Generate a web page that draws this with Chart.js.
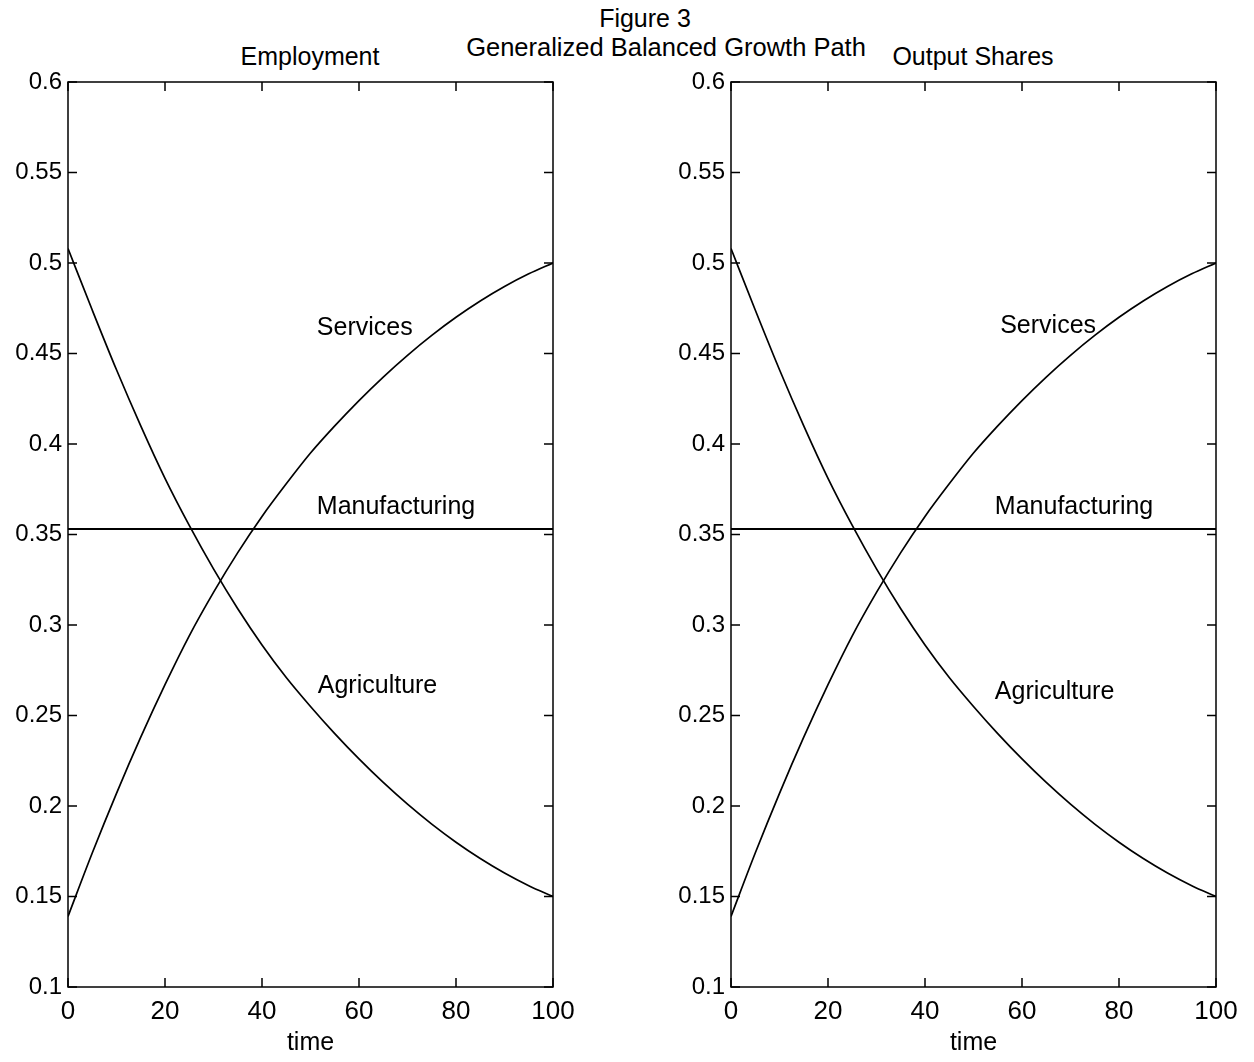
<!DOCTYPE html>
<html lang="en">
<head>
<meta charset="UTF-8">
<title>Figure 3</title>
<style>
  body { margin: 0; background: #fff; width: 1254px; height: 1062px; position: relative; overflow: hidden;
         font-family: "Liberation Sans", Arial, sans-serif; color: #000; }
  canvas { position: absolute; top: 0; }
  .txt { position: absolute; font-size: 25px; line-height: 1; white-space: nowrap; transform: translate(-50%, -50%); }
</style>
</head>
<body>
<div class="txt" style="left:645px;top:18px">Figure 3</div>
<div class="txt" style="left:666px;top:48px;font-size:25.5px">Generalized Balanced Growth Path</div>
<div class="txt" style="left:310px;top:56px">Employment</div>
<div class="txt" style="left:973px;top:56px">Output Shares</div>
<canvas id="empChart" width="627" height="1062" style="left:0"></canvas>
<canvas id="outChart" width="627" height="1062" style="left:627px"></canvas>
<script src="https://cdn.jsdelivr.net/npm/chart.js@4.4.0/dist/chart.umd.min.js"></script>
<script>
// values (same paths in both panels)
const time = [0, 5, 10, 15, 20, 25, 30, 35, 40, 45, 50, 55, 60, 65, 70, 75, 80, 85, 90, 95, 100];
const agriculture = [0.508, 0.474, 0.441, 0.410, 0.381, 0.355, 0.331, 0.309, 0.289, 0.271, 0.255,
                     0.240, 0.226, 0.213, 0.201, 0.190, 0.180, 0.171, 0.163, 0.156, 0.150];
const manufacturing = [0.353, 0.353, 0.353, 0.353, 0.353, 0.353, 0.353, 0.353, 0.353, 0.353, 0.353,
                       0.353, 0.353, 0.353, 0.353, 0.353, 0.353, 0.353, 0.353, 0.353, 0.353];
const services = [0.139, 0.174, 0.207, 0.238, 0.267, 0.294, 0.318, 0.340, 0.360, 0.378, 0.395,
                  0.410, 0.424, 0.437, 0.449, 0.460, 0.470, 0.479, 0.487, 0.494, 0.500];
const seriesNames = ['Services', 'Manufacturing', 'Agriculture'];

// where the curve names sit, in data units [time, share]
const empLabelPos = [[51.3, 0.464], [51.3, 0.365], [51.5, 0.266]];
const outLabelPos = [[55.5, 0.465], [54.4, 0.365], [54.4, 0.263]];

const pts = arr => arr.map((v, i) => ({ x: time[i], y: v }));

// box round the plot, inward ticks on all four sides, curve names
const boxTicks = {
  id: 'boxTicks',
  afterDatasetsDraw(chart, args, opts) {
    const { ctx, chartArea: a, scales: { x, y } } = chart;
    ctx.save();
    ctx.strokeStyle = '#000';
    ctx.lineWidth = 1.5;
    ctx.strokeRect(a.left, a.top, a.right - a.left, a.bottom - a.top);
    ctx.beginPath();
    x.ticks.forEach(t => {
      const px = x.getPixelForValue(t.value);
      ctx.moveTo(px, a.bottom); ctx.lineTo(px, a.bottom - 9);
      ctx.moveTo(px, a.top); ctx.lineTo(px, a.top + 9);
    });
    y.ticks.forEach(t => {
      const py = y.getPixelForValue(t.value);
      ctx.moveTo(a.left, py); ctx.lineTo(a.left + 9, py);
      ctx.moveTo(a.right, py); ctx.lineTo(a.right - 9, py);
    });
    ctx.stroke();
    ctx.fillStyle = '#000';
    ctx.font = '25px "Liberation Sans", Arial, sans-serif';
    ctx.textAlign = 'left';
    ctx.textBaseline = 'middle';
    seriesNames.forEach((name, i) => {
      const p = opts.labels[i];
      ctx.fillText(name, x.getPixelForValue(p[0]), y.getPixelForValue(p[1]));
    });
    ctx.restore();
  }
};

function makeChart(id, yWidth, rightPad, labelPos) {
  const line = { borderColor: '#000', borderWidth: 1.7, pointRadius: 0, cubicInterpolationMode: 'monotone', fill: false };
  return new Chart(document.getElementById(id), {
    type: 'line',
    data: {
      datasets: [
        Object.assign({ label: 'Services', data: pts(services) }, line),
        Object.assign({ label: 'Manufacturing', data: pts(manufacturing) }, line, { borderWidth: 2 }),
        Object.assign({ label: 'Agriculture', data: pts(agriculture) }, line)
      ]
    },
    options: {
      responsive: false,
      animation: false,
      layout: { padding: { top: 82, right: rightPad, bottom: 4, left: 0 } },
      plugins: { legend: { display: false }, tooltip: { enabled: false }, boxTicks: { labels: labelPos } },
      scales: {
        x: {
          type: 'linear', min: 0, max: 100,
          ticks: { stepSize: 20, color: '#000', font: { size: 26, family: '"Liberation Sans", Arial, sans-serif' }, padding: 9, maxRotation: 0 },
          grid: { display: false, drawTicks: false },
          border: { display: false },
          title: { display: true, text: 'time', color: '#000', font: { size: 25, family: '"Liberation Sans", Arial, sans-serif' }, padding: 0 },
          afterFit(s) { s.height = 71; }
        },
        y: {
          min: 0.1, max: 0.6,
          ticks: { stepSize: 0.05, color: '#000', font: { size: 24, family: '"Liberation Sans", Arial, sans-serif' }, padding: 6,
                   callback: v => String(+v.toFixed(2)) },
          grid: { display: false, drawTicks: false },
          border: { display: false },
          afterFit(s) { s.width = yWidth; }
        }
      }
    },
    plugins: [boxTicks]
  });
}

makeChart('empChart', 68, 74, empLabelPos);
makeChart('outChart', 104, 38, outLabelPos);
</script>
</body>
</html>
